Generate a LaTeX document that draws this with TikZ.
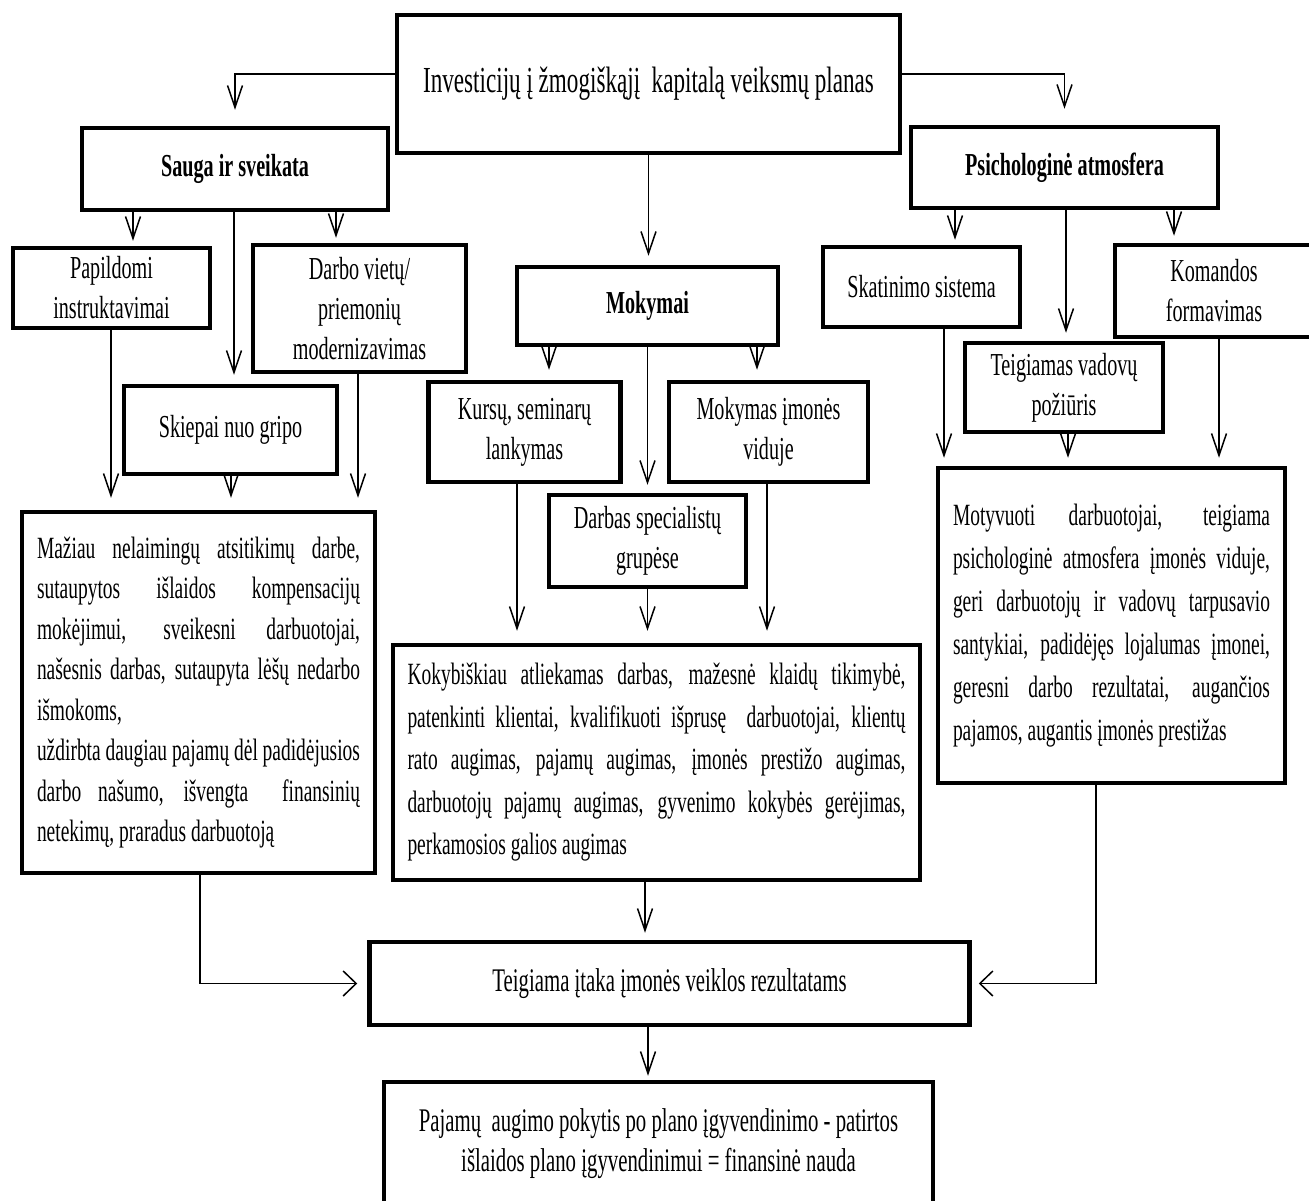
\documentclass[tikz,border=0pt]{standalone}
\usepackage{fontspec}
\setmainfont{Liberation Serif}[FakeStretch=0.63]
\usetikzlibrary{arrows.meta}
\tolerance=9999
\hbadness=10000
\begin{document}
\begin{tikzpicture}[x=1pt,y=-1pt,
  box/.style={draw, line width=4.5pt, inner sep=0pt, align=center},
  small/.style={box, font=\fontsize{32}{40}\selectfont},
  head/.style={box, font=\fontsize{32}{40}\selectfont\bfseries},
  large/.style={box, font=\fontsize{33}{40}\selectfont},
  para/.style={box, align=justify, font=\fontsize{30.9}{#1}\selectfont},
  link/.style={line width=1.5pt},
  down/.style={link, -{Straight Barb[length=22pt,width=15pt]}, shorten >=#1},
  down/.default=8pt,
  side/.style={link, -{Straight Barb[length=13pt,width=25pt]}, shorten >=#1},
  side/.default=8pt]

\useasboundingbox (0,0) rectangle (1309,1200);
\fill[white] (0,0) rectangle (1309,1200);
\clip (0,0) rectangle (1309,1200);

% top level
\node[box, font=\fontsize{36.7}{40}\selectfont, minimum width=503pt, minimum height=138pt]
  (title) at (648.5,84) {Investicijų į žmogiškąjį\ \ kapitalą veiksmų planas};

% three branches
\node[head, minimum width=306pt, minimum height=82pt] (sauga) at (235,169) {Sauga ir sveikata};
\node[head, minimum width=261pt, minimum height=78pt] (mokymai) at (647.5,306) {Mokymai};
\node[head, minimum width=307pt, minimum height=81pt] (psych) at (1064.5,167.5) {Psichologinė atmosfera};

% safety and health measures
\node[small, minimum width=197pt, minimum height=80pt] (papild) at (111.5,288) {Papildomi\\instruktavimai};
\node[small, minimum width=213pt, minimum height=127pt] (darbo) at (359.5,308.5) {Darbo vietų/\\priemonių\\modernizavimas};
\node[small, minimum width=213pt, minimum height=88pt] (skiepai) at (230.5,430) {Skiepai nuo gripo};

% training measures
\node[small, minimum width=192pt, minimum height=100pt] (kursai) at (524.5,432) {Kursų, seminarų\\lankymas};
\node[small, minimum width=199pt, minimum height=100pt] (vidus) at (768.5,432) {Mokymas įmonės\\viduje};
\node[small, minimum width=197pt, minimum height=92pt] (grupes) at (647.5,541) {Darbas specialistų\\grupėse};

% psychological climate measures
\node[small, minimum width=197pt, minimum height=80pt] (skatin) at (921.5,287) {Skatinimo sistema};
\node[small, minimum width=198pt, minimum height=92pt] (komanda) at (1214,291) {Komandos\\formavimas};
\node[small, minimum width=198pt, minimum height=89pt] (vadovai) at (1064,387.5) {Teigiamas vadovų\\požiūris};

% outcomes of each branch
\node[para=40.5, text width=323pt, minimum width=353pt, minimum height=361pt] (saugares) at (198.5,692.5)
{Mažiau nelaimingų atsitikimų darbe,\linebreak
sutaupytos išlaidos kompensacijų\linebreak
mokėjimui, sveikesni darbuotojai,\linebreak
našesnis darbas, sutaupyta lėšų nedarbo\linebreak
išmokoms,\newline
uždirbta daugiau pajamų dėl padidėjusios\linebreak
darbo našumo, išvengta\ \ finansinių\linebreak
netekimų, praradus darbuotoją};

\node[para=42.5, text width=498pt, minimum width=527pt, minimum height=235pt] (mokres) at (656.5,762.5)
{Kokybiškiau atliekamas darbas, mažesnė klaidų tikimybė,\linebreak
patenkinti klientai, kvalifikuoti išprusę\ \ darbuotojai, klientų\linebreak
rato augimas, pajamų augimas, įmonės prestižo augimas,\linebreak
darbuotojų pajamų augimas, gyvenimo kokybės gerėjimas,\linebreak
perkamosios galios augimas};

\node[para=43, text width=317pt, minimum width=347pt, minimum height=315pt] (psichres) at (1111.5,625.5)
{Motyvuoti darbuotojai, teigiama\linebreak
psichologinė atmosfera įmonės viduje,\linebreak
geri darbuotojų ir vadovų tarpusavio\linebreak
santykiai, padidėjęs lojalumas įmonei,\linebreak
geresni darbo rezultatai, augančios\linebreak
pajamos, augantis įmonės prestižas};

% overall result
\node[large, minimum width=600pt, minimum height=83pt] (itaka) at (669.5,983.5) {Teigiama įtaka įmonės veiklos rezultatams};
\node[large, minimum width=549pt, minimum height=124pt] (nauda) at (658.5,1144)
  {Pajamų\ \ augimo pokytis po plano įgyvendinimo - patirtos\\išlaidos plano įgyvendinimui = finansinė nauda};

% connectors from the plan
\draw[down=16pt] ([yshift=10pt]title.west) -| (sauga.north);
\draw[down=16pt] ([yshift=10pt]title.east) -| (psych.north);
\draw[down=9pt] (title.south) -- (title.south |- mokymai.north);

% safety and health
\draw[down=5pt] (sauga.south -| 133,0) -- (papild.north -| 133,0);
\draw[down=9pt] (sauga.south -| 234,0) -- (skiepai.north -| 234,0);
\draw[down=5pt] (sauga.south -| 336,0) -- (darbo.north -| 336,0);
\draw[down=12pt] (papild.south -| 111,0) -- (saugares.north -| 111,0);
\draw[down=12pt] (skiepai.south -| 231,0) -- (saugares.north -| 231,0);
\draw[down=12pt] (darbo.south -| 358,0) -- (saugares.north -| 358,0);

% training
\draw[down=10pt] (mokymai.south -| 549,0) -- (kursai.north -| 549,0);
\draw[down=8pt] (mokymai.south) -- (mokymai.south |- grupes.north);
\draw[down=10pt] (mokymai.south -| 757,0) -- (vidus.north -| 757,0);
\draw[down=12pt] (kursai.south -| 517,0) -- (mokres.north -| 517,0);
\draw[down=12pt] (grupes.south) -- (grupes.south |- mokres.north);
\draw[down=12pt] (vidus.south -| 767,0) -- (mokres.north -| 767,0);

% psychological climate
\draw[down=5pt] (psych.south -| 955,0) -- (skatin.north -| 955,0);
\draw[down=8pt] (psych.south -| 1066,0) -- (vadovai.north -| 1066,0);
\draw[down=7pt] (psych.south -| 1174,0) -- (komanda.north -| 1174,0);
\draw[down=8pt] (skatin.south -| 944,0) -- (psichres.north -| 944,0);
\draw[down=8pt] (vadovai.south -| 1068,0) -- (psichres.north -| 1068,0);
\draw[down=8pt] (komanda.south -| 1219,0) -- (psichres.north -| 1219,0);

% towards the results
\draw[side=10pt] (saugares.south -| 200,0) |- (itaka.west);
\draw[down=7pt] (mokres.south -| 645,0) -- (itaka.north -| 645,0);
\draw[side=7pt] (psichres.south -| 1096,0) |- (itaka.east);
\draw[down=4pt] (itaka.south -| 648,0) -- (nauda.north -| 648,0);
\end{tikzpicture}
\end{document}
